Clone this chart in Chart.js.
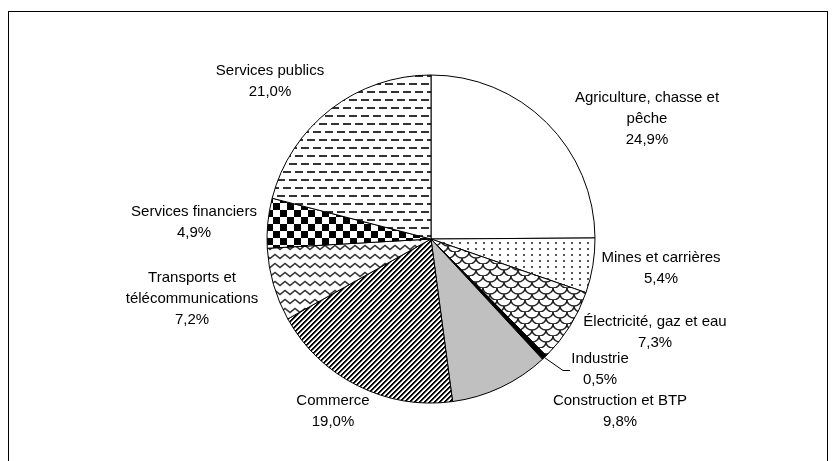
<!DOCTYPE html>
<html>
<head>
<meta charset="utf-8">
<script src="https://cdn.jsdelivr.net/npm/chart.js@4/dist/chart.umd.min.js"></script>
<style>
  html, body { margin: 0; padding: 0; background: #fff; }
  #wrap { position: relative; width: 836px; height: 461px; overflow: hidden; background: #fff; }
  #frame { position: absolute; left: 8px; top: 11px; width: 820px; height: 480px;
           border: 1px solid #000; box-sizing: border-box; }
  canvas { position: absolute; left: 0; top: 0; }
</style>
</head>
<body>
<div id="wrap">
  <div id="frame"></div>
  <canvas id="c" width="836" height="461"></canvas>
</div>
<script>
// ---- data ----
const categories = [
  "Agriculture, chasse et\npêche",
  "Mines et carrières",
  "Électricité, gaz et eau",
  "Industrie",
  "Construction et BTP",
  "Commerce",
  "Transports et\ntélécommunications",
  "Services financiers",
  "Services publics"
];
const shares = [24.9, 5.4, 7.3, 0.5, 9.8, 19.0, 7.2, 4.9, 21.0];

// ---- layout (label centres of the first line), not data ----
const labelPos = [
  [647, 98], [661, 258], [655, 322], [600, 359], [620, 401],
  [333, 401], [192, 278], [194, 212], [270, 71]
];
const lineH = 21;

// ---- patterns ----
function tile(w, h, draw) {
  const c = document.createElement('canvas');
  c.width = w; c.height = h;
  const x = c.getContext('2d');
  x.fillStyle = '#fff'; x.fillRect(0, 0, w, h);
  draw(x, w, h);
  return x.createPattern(c, 'repeat');
}
const pDots = tile(8, 6, (x) => { x.fillStyle = '#555'; x.fillRect(3, 2, 2, 2); });
const pScales = tile(14, 12, (x) => {
  x.strokeStyle = '#222'; x.lineWidth = 1.5;
  [[0,0],[14,0],[7,6],[0,12],[14,12]].forEach(([cx, cy]) => {
    x.beginPath(); x.ellipse(cx, cy, 7, 6, 0, 0, Math.PI); x.stroke();
  });
});
const pStripes = tile(5, 5, (x) => {
  const id = x.createImageData(5, 5);
  for (let yy = 0; yy < 5; yy++) for (let xx = 0; xx < 5; xx++) {
    const m = (xx + yy) % 5;
    const v = m < 2 ? 0 : (m === 2 ? 140 : 255);
    const i = (yy * 5 + xx) * 4;
    id.data[i] = id.data[i+1] = id.data[i+2] = v; id.data[i+3] = 255;
  }
  x.putImageData(id, 0, 0);
});
const pWaves = tile(10, 9, (x) => {
  x.strokeStyle = '#333'; x.lineWidth = 1.5;
  x.beginPath(); x.moveTo(-2.5, 4); x.lineTo(0, 6.5); x.lineTo(5, 2.5); x.lineTo(10, 6.5); x.lineTo(12.5, 4); x.stroke();
});
const pChecker = tile(14, 14, (x) => {
  x.fillStyle = '#000'; x.fillRect(0, 0, 7, 7); x.fillRect(7, 7, 7, 7);
});
const pDashes = tile(24, 16, (x) => {
  x.fillStyle = '#333';
  x.fillRect(1, 3, 8, 2); x.fillRect(13, 3, 8, 2);
  x.fillRect(7, 11, 8, 2); x.fillRect(19, 11, 5, 2); x.fillRect(0, 11, 3, 2);
});
const fills = ['#ffffff', pDots, pScales, '#000000', '#c0c0c0', pStripes, pWaves, pChecker, pDashes];

const fmt = v => v.toFixed(1).replace('.', ',') + '%';

const labelPlugin = {
  id: 'labels',
  afterDraw(chart) {
    const ctx = chart.ctx;
    const meta = chart.getDatasetMeta(0);
    ctx.save();
    ctx.font = '15px "Liberation Sans", Arial, sans-serif';
    ctx.fillStyle = '#000';
    ctx.textAlign = 'center';
    ctx.textBaseline = 'middle';
    categories.forEach((cat, i) => {
      const lines = cat.split('\n').concat([fmt(shares[i])]);
      const [lx, ly] = labelPos[i];
      lines.forEach((t, k) => ctx.fillText(t, lx, ly + k * lineH));
    });
    // leader line for Industrie
    const arc = meta.data[3];
    const p = arc.getProps(['x', 'y', 'startAngle', 'endAngle', 'outerRadius'], true);
    const mid = (p.startAngle + p.endAngle) / 2;
    const sx = p.x + Math.cos(mid) * p.outerRadius;
    const sy = p.y + Math.sin(mid) * p.outerRadius;
    ctx.strokeStyle = '#000'; ctx.lineWidth = 1;
    ctx.beginPath();
    ctx.moveTo(sx, sy);
    ctx.lineTo(563, 370.5);
    ctx.lineTo(570, 370.5);
    ctx.stroke();
    ctx.restore();
  }
};

new Chart(document.getElementById('c'), {
  type: 'pie',
  data: {
    labels: categories,
    datasets: [{
      data: shares,
      backgroundColor: fills,
      borderColor: '#000',
      borderWidth: 1,
      radius: 164
    }]
  },
  options: {
    responsive: false,
    animation: false,
    layout: { padding: { left: 26, right: 0, top: 17, bottom: 0 } },
    plugins: { legend: { display: false }, tooltip: { enabled: false } }
  },
  plugins: [labelPlugin]
});
</script>
</body>
</html>
